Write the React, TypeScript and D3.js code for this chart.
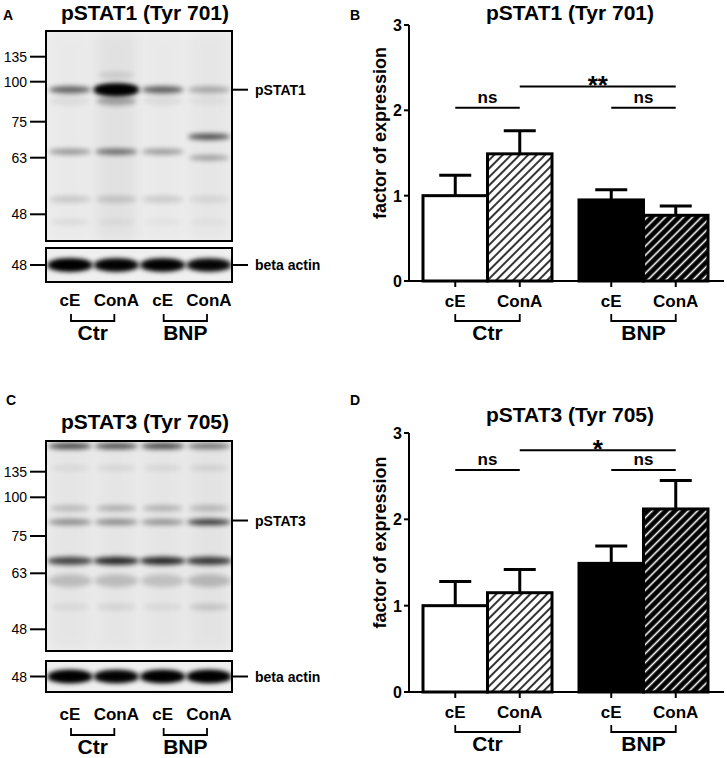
import * as d3 from "d3";

const FONT = "Liberation Sans, Arial, Helvetica, sans-serif";

// bar chart data
const groups = ["Ctr", "BNP"];
const conditions = ["cE", "ConA"];
const stat1Means = [1.0, 1.49, 0.95, 0.77];
const stat1Sem = [0.24, 0.27, 0.12, 0.11];
const stat3Means = [1.0, 1.15, 1.49, 2.12];
const stat3Sem = [0.28, 0.27, 0.2, 0.33];
const stat1Sig = [
  { from: 0, to: 1, value: 2.03, label: "ns" },
  { from: 2, to: 3, value: 2.03, label: "ns" },
  { from: 1, to: 3, value: 2.28, label: "**" },
];
const stat3Sig = [
  { from: 0, to: 1, value: 2.57, label: "ns" },
  { from: 2, to: 3, value: 2.57, label: "ns" },
  { from: 1, to: 3, value: 2.8, label: "*" },
];
const yTicks = [0, 1, 2, 3];
const barFills = ["#fff", "url(#hatchW)", "#000", "url(#hatchB)"];

// blot data
const lanes = ["cE-Ctr", "ConA-Ctr", "cE-BNP", "ConA-BNP"];
const markers = [135, 100, 75, 63, 48];
const markerOffsetA = [25.7, 50.7, 90.7, 126.7, 183.3];
const markerOffsetC = [30.7, 56.3, 95, 132.3, 188.3];
const stat1Bands = [
  { kDa: 109, h: 7, w: 18, a: [0, 0.1, 0, 0] },
  { kDa: 95, h: 7, w: 21, a: [0.6, 0, 0.62, 0.28] },
  { kDa: 95, h: 12, w: 23, a: [0, 1, 0, 0] },
  { kDa: 95, h: 9, w: 21, a: [0, 1, 0, 0] },
  { kDa: 88, h: 9, w: 20, a: [0.06, 0.3, 0.06, 0.04] },
  { kDa: 70, h: 6, w: 21, a: [0, 0, 0, 0.7] },
  { kDa: 65, h: 6, w: 21, a: [0.36, 0.55, 0.34, 0] },
  { kDa: 63, h: 5, w: 20, a: [0, 0, 0, 0.35] },
  { kDa: 52, h: 7, w: 21, a: [0.14, 0.15, 0.13, 0.08] },
  { kDa: 46, h: 6, w: 20, a: [0.06, 0.04, 0.03, 0.03] },
];
const stat3Bands = [
  { kDa: 170, h: 6, w: 22, a: [0.72, 0.68, 0.72, 0.5] },
  { kDa: 140, h: 5, w: 20, a: [0.07, 0.08, 0.08, 0.1] },
  { kDa: 93, h: 6, w: 20, a: [0.2, 0.25, 0.24, 0.22] },
  { kDa: 84, h: 6, w: 22, a: [0.4, 0.4, 0.36, 0.78] },
  { kDa: 67, h: 8, w: 23, a: [0.72, 0.85, 0.85, 0.78] },
  { kDa: 61, h: 13, w: 22, a: [0.18, 0.18, 0.16, 0.2] },
  { kDa: 54, h: 7, w: 20, a: [0.06, 0.08, 0.06, 0.14] },
];
const actinA = [1, 0.95, 0.95, 0.9];
const actinC = [1, 0.95, 1, 1];
const laneSmearA = [0.02, 0.05, 0.02, 0.03];
const laneSmearC = [0.035, 0.035, 0.035, 0.045];

const x0 = d3.scaleBand().domain(groups).range([423, 708]).paddingInner(0.173);
const x1 = d3.scaleBand().domain(conditions).range([0, x0.bandwidth()]);
const barX = (i: number) => (x0(groups[Math.floor(i / 2)]) as number) + (x1(conditions[i % 2]) as number);
const barCx = (i: number) => barX(i) + x1.bandwidth() / 2;
const laneX = d3.scalePoint().domain(lanes).range([70, 209]);

function BarPanel({ y, means, sem, sig, title, titleY }: any) {
  const y0 = y(0);
  return (
    <g fontFamily={FONT} fontWeight="bold">
      <text x={570} y={titleY} textAnchor="middle" fontSize={21}>{title}</text>
      {means.map((m: number, i: number) => (
        <rect key={i} x={barX(i)} y={y(m)} width={x1.bandwidth()} height={y0 - y(m)}
          fill={barFills[i]} stroke="#000" strokeWidth={3} />
      ))}
      {means.map((m: number, i: number) => (
        <g key={"e" + i} stroke="#000" strokeWidth={3}>
          <line x1={barCx(i)} x2={barCx(i)} y1={y(m)} y2={y(m + sem[i])} />
          <line x1={barCx(i) - 16} x2={barCx(i) + 16} y1={y(m + sem[i])} y2={y(m + sem[i])} />
        </g>
      ))}
      <line x1={409} x2={409} y1={y(3)} y2={y0} stroke="#000" strokeWidth={2} />
      <line x1={408} x2={724} y1={y0} y2={y0} stroke="#000" strokeWidth={2} />
      {yTicks.map((t) => (
        <g key={t}>
          <line x1={404} x2={409} y1={y(t)} y2={y(t)} stroke="#000" strokeWidth={2} />
          <text x={402} y={y(t) + 6} textAnchor="end" fontSize={16}>{t}</text>
        </g>
      ))}
      <text transform={`translate(386,${(y(0) + y(3)) / 2 - 20}) rotate(-90)`} textAnchor="middle" fontSize={18}>
        factor of expression
      </text>
      {means.map((_: number, i: number) => (
        <g key={"x" + i}>
          <line x1={barCx(i)} x2={barCx(i)} y1={y0} y2={y0 + 6} stroke="#000" strokeWidth={2} />
          <text x={barCx(i)} y={y0 + 26} textAnchor="middle" fontSize={17}>{conditions[i % 2]}</text>
        </g>
      ))}
      {groups.map((g, gi) => {
        const a = barCx(gi * 2), b = barCx(gi * 2 + 1);
        return (
          <g key={g}>
            <path d={`M${a},${y0 + 33}V${y0 + 40}H${b}V${y0 + 33}`} fill="none" stroke="#000" strokeWidth={1.8} />
            <text x={(a + b) / 2} y={y0 + 59} textAnchor="middle" fontSize={21}>{g}</text>
          </g>
        );
      })}
      {sig.map((s: any, i: number) => (
        <g key={"s" + i}>
          <line x1={barCx(s.from)} x2={barCx(s.to)} y1={y(s.value)} y2={y(s.value)} stroke="#000" strokeWidth={2} />
          <text x={(barCx(s.from) + barCx(s.to)) / 2} y={s.label === "ns" ? y(s.value) - 5 : y(s.value) + 8}
            textAnchor="middle" fontSize={s.label === "ns" ? 17 : 26}>{s.label}</text>
        </g>
      ))}
    </g>
  );
}

function Blot({ top, offsets, bands, actin, smear, target, targetKDa, title, titleY, actinTop, actinH, labelTop, id }: any) {
  const ky = d3.scaleLinear().domain(markers).range(offsets.map((o: number) => top + o));
  const boxH = 210;
  const actinY = actinTop + actinH / 2;
  return (
    <g fontFamily={FONT}>
      <defs>
        <clipPath id={id + "clip"}><rect x={46} y={top} width={186} height={boxH} /></clipPath>
        <clipPath id={id + "aclip"}><rect x={46} y={actinTop} width={186} height={actinH} /></clipPath>
      </defs>
      <text x={145} y={titleY} textAnchor="middle" fontSize={21} fontWeight="bold">{title}</text>
      <rect x={46} y={top} width={186} height={boxH} fill="#efefef" />
      <g clipPath={`url(#${id}clip)`}>
        {lanes.map((l, i) => (
          <rect key={l} x={(laneX(l) as number) - 21} y={top} width={42} height={boxH} fill="#000"
            opacity={smear[i]} filter="url(#blurWide)" />
        ))}
        {bands.map((b: any, bi: number) =>
          lanes.map((l, i) =>
            b.a[i] > 0 ? (
              <ellipse key={bi + l} cx={laneX(l)} cy={ky(b.kDa)} rx={b.w} ry={b.h / 2} fill="#000"
                opacity={b.a[i]} filter="url(#blur)" />
            ) : null
          )
        )}
      </g>
      <rect x={46} y={top} width={186} height={boxH} fill="none" stroke="#000" strokeWidth={2} />
      <rect x={46} y={actinTop} width={186} height={actinH} fill="#efefef" />
      <g clipPath={`url(#${id}aclip)`}>
        {lanes.map((l, i) => (
          <ellipse key={l} cx={laneX(l)} cy={actinY} rx={23} ry={6.5} fill="#000" opacity={actin[i]} filter="url(#blur)" />
        ))}
        {lanes.map((l, i) => (
          <ellipse key={"c" + l} cx={laneX(l)} cy={actinY} rx={19} ry={4} fill="#000" opacity={actin[i]} filter="url(#blur)" />
        ))}
      </g>
      <rect x={46} y={actinTop} width={186} height={actinH} fill="none" stroke="#000" strokeWidth={2} />
      {markers.map((m) => (
        <g key={m}>
          <line x1={30} x2={46} y1={ky(m)} y2={ky(m)} stroke="#000" strokeWidth={2} />
          <text x={27} y={ky(m) + 5} textAnchor="end" fontSize={14}>{m}</text>
        </g>
      ))}
      <line x1={30} x2={46} y1={actinY} y2={actinY} stroke="#000" strokeWidth={2} />
      <text x={27} y={actinY + 5} textAnchor="end" fontSize={14}>48</text>
      <line x1={232} x2={248} y1={ky(targetKDa)} y2={ky(targetKDa)} stroke="#000" strokeWidth={2} />
      <text x={255} y={ky(targetKDa) + 5} fontSize={14} fontWeight="bold">{target}</text>
      <line x1={232} x2={248} y1={actinY} y2={actinY} stroke="#000" strokeWidth={2} />
      <text x={255} y={actinY + 5} fontSize={14} fontWeight="bold">beta actin</text>
      <g fontWeight="bold">
        {lanes.map((l, i) => (
          <text key={l} x={laneX(l)} y={labelTop + 24} textAnchor="middle" fontSize={17}>{conditions[i % 2]}</text>
        ))}
        {groups.map((g, gi) => {
          const a = (laneX(lanes[gi * 2]) as number) + 1, b = (laneX(lanes[gi * 2 + 1]) as number) - 2;
          return (
            <g key={g}>
              <path d={`M${a},${labelTop + 32}V${labelTop + 39}H${b}V${labelTop + 32}`} fill="none" stroke="#000" strokeWidth={1.8} />
              <text x={(a + b) / 2} y={labelTop + 58} textAnchor="middle" fontSize={21}>{g}</text>
            </g>
          );
        })}
      </g>
    </g>
  );
}

export default function App() {
  const yB = d3.scaleLinear().domain([0, 3]).range([281, 25]);
  const yD = d3.scaleLinear().domain([0, 3]).range([692, 433]);
  return (
    <svg width={727} height={758} style={{ position: "absolute", left: 0, top: 0, background: "#fff" }}>
      <defs>
        <filter id="blur" x="-50%" y="-100%" width="200%" height="300%">
          <feGaussianBlur stdDeviation="2.5" />
        </filter>
        <filter id="blurWide" x="-50%" y="-10%" width="200%" height="120%">
          <feGaussianBlur stdDeviation="6" />
        </filter>
        <pattern id="hatchW" patternUnits="userSpaceOnUse" width={6} height={6} patternTransform="rotate(-45)">
          <rect width={6} height={6} fill="#fff" />
          <line x1={0} x2={6} y1={3} y2={3} stroke="#000" strokeWidth={1.6} />
        </pattern>
        <pattern id="hatchB" patternUnits="userSpaceOnUse" width={6.4} height={6.4} patternTransform="rotate(-45)">
          <rect width={6.4} height={6.4} fill="#000" />
          <line x1={0} x2={6.4} y1={3.2} y2={3.2} stroke="#fff" strokeWidth={1.6} />
        </pattern>
      </defs>
      <g fontFamily={FONT} fontWeight="bold" fontSize={14}>
        <text x={3} y={20}>A</text>
        <text x={350} y={20}>B</text>
        <text x={6} y={405}>C</text>
        <text x={350} y={405}>D</text>
      </g>
      <Blot id="a" top={31} offsets={markerOffsetA} bands={stat1Bands} actin={actinA} smear={laneSmearA}
        target="pSTAT1" targetKDa={95} title="pSTAT1 (Tyr 701)" titleY={20} actinTop={248} actinH={34} labelTop={282} />
      <Blot id="c" top={441} offsets={markerOffsetC} bands={stat3Bands} actin={actinC} smear={laneSmearC}
        target="pSTAT3" targetKDa={85} title="pSTAT3 (Tyr 705)" titleY={429} actinTop={661} actinH={31} labelTop={696} />
      <BarPanel y={yB} means={stat1Means} sem={stat1Sem} sig={stat1Sig} title="pSTAT1 (Tyr 701)" titleY={20} />
      <BarPanel y={yD} means={stat3Means} sem={stat3Sem} sig={stat3Sig} title="pSTAT3 (Tyr 705)" titleY={422} />
    </svg>
  );
}
